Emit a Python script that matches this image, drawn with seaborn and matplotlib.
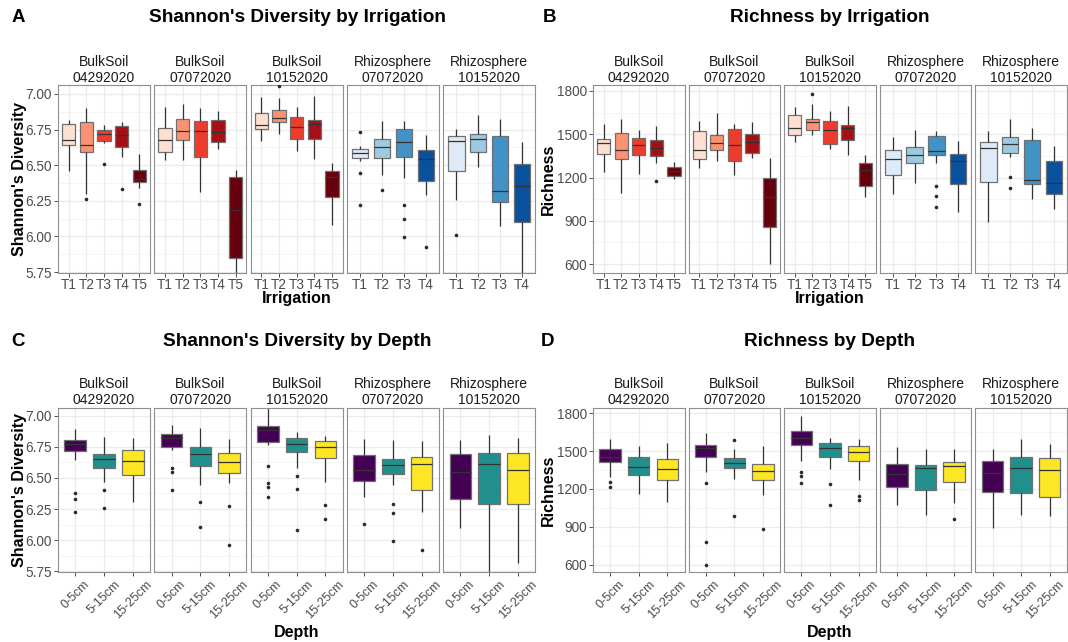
import numpy as np
import pandas as pd
import matplotlib
matplotlib.use("Agg")
import matplotlib.pyplot as plt
import matplotlib.transforms as mtransforms
import seaborn as sns

sns.set_theme(style="white")
plt.rcParams["font.family"] = ["Liberation Sans", "DejaVu Sans"]

# ---------------------------------------------------------------- labels
strip_labels = ["BulkSoil\n04292020", "BulkSoil\n07072020", "BulkSoil\n10152020",
                "Rhizosphere\n07072020", "Rhizosphere\n10152020"]
treat_bulk = ["T1", "T2", "T3", "T4", "T5"]
treat_rhizo = ["T1", "T2", "T3", "T4"]
depth_levels = ["0-5cm", "5-15cm", "15-25cm"]

reds = ["#FEE0D2", "#FC9272", "#EF3B2C", "#A50F15", "#67000D"]
blues = ["#DEEBF7", "#9ECAE1", "#4292C6", "#08519C"]
viridis3 = ["#440154", "#21908C", "#FDE725"]

# Box summaries per group: lower whisker, Q1, median, Q3, upper whisker
# ---- Shannon's diversity by irrigation
sh_irr_bs0429 = [[6.46, 6.64, 6.68, 6.79, 6.82], [6.30, 6.59, 6.645, 6.805, 6.90],
                 [6.655, 6.668, 6.717, 6.745, 6.783], [6.56, 6.631, 6.71, 6.773, 6.80],
                 [6.339, 6.379, 6.404, 6.463, 6.577]]
sh_irr_bs0707 = [[6.537, 6.596, 6.68, 6.759, 6.907], [6.533, 6.68, 6.738, 6.822, 6.93],
                 [6.309, 6.554, 6.743, 6.81, 6.90], [6.612, 6.661, 6.736, 6.815, 6.877],
                 [5.743, 5.851, 6.187, 6.416, 6.463]]
sh_irr_bs1015 = [[6.673, 6.752, 6.785, 6.865, 6.98], [6.717, 6.80, 6.832, 6.888, 6.97],
                 [6.603, 6.687, 6.771, 6.841, 6.907], [6.542, 6.685, 6.787, 6.818, 6.986],
                 [6.082, 6.28, 6.416, 6.458, 6.514]]
sh_irr_rz0707 = [[6.53, 6.551, 6.584, 6.614, 6.636], [6.432, 6.549, 6.626, 6.687, 6.81],
                 [6.409, 6.554, 6.666, 6.752, 6.81], [6.294, 6.39, 6.544, 6.605, 6.713]]
sh_irr_rz1015 = [[6.257, 6.46, 6.671, 6.703, 6.752], [6.484, 6.596, 6.685, 6.717, 6.85],
                 [6.075, 6.24, 6.322, 6.706, 6.825], [5.743, 6.098, 6.353, 6.507, 6.666]]

sh_irr_out_bs0429 = [[], [6.262], [6.507], [6.332], [6.229]]
sh_irr_out_bs0707 = [[], [], [], [], []]
sh_irr_out_bs1015 = [[], [7.056], [], [], []]
sh_irr_out_rz0707 = [[6.731, 6.444, 6.222], [6.325], [6.22, 6.124, 5.995], [5.927]]
sh_irr_out_rz1015 = [[6.007], [], [], []]

# ---- Richness by irrigation
rc_irr_bs0429 = [[1235, 1366, 1440, 1468, 1569], [1092, 1325, 1389, 1507, 1604],
                 [1223, 1359, 1422, 1475, 1532], [1304, 1352, 1403, 1458, 1555],
                 [1188, 1209, 1246, 1276, 1308]]
rc_irr_bs0707 = [[1269, 1325, 1389, 1525, 1590], [1311, 1392, 1438, 1498, 1648],
                 [1218, 1311, 1428, 1537, 1574], [1338, 1371, 1445, 1505, 1585],
                 [598, 854, 1066, 1200, 1338]]
rc_irr_bs1015 = [[1447, 1498, 1546, 1632, 1689], [1498, 1532, 1583, 1608, 1708],
                 [1401, 1433, 1528, 1590, 1659], [1359, 1461, 1542, 1562, 1694],
                 [1066, 1142, 1251, 1302, 1359]]
rc_irr_rz0707 = [[1085, 1218, 1325, 1394, 1482], [1165, 1304, 1359, 1412, 1532],
                 [1300, 1355, 1385, 1491, 1525], [960, 1158, 1311, 1366, 1452]]
rc_irr_rz1015 = [[891, 1168, 1405, 1449, 1523], [1340, 1371, 1433, 1482, 1604],
                 [1048, 1156, 1184, 1463, 1546], [983, 1087, 1163, 1315, 1417]]

rc_irr_out_bs0429 = [[], [], [], [1177], []]
rc_irr_out_bs0707 = [[], [], [], [], []]
rc_irr_out_bs1015 = [[], [1782], [], [], []]
rc_irr_out_rz0707 = [[], [], [1140, 1071, 992], []]
rc_irr_out_rz1015 = [[], [1205, 1128], [], []]

# ---- Shannon's diversity by depth
sh_dep_bs0429 = [[6.647, 6.716, 6.772, 6.802, 6.898], [6.467, 6.58, 6.652, 6.69, 6.829],
                 [6.304, 6.524, 6.639, 6.724, 6.821]]
sh_dep_bs0707 = [[6.727, 6.746, 6.821, 6.85, 6.928], [6.446, 6.596, 6.692, 6.748, 6.901],
                 [6.459, 6.54, 6.628, 6.698, 6.813]]
sh_dep_bs1015 = [[6.762, 6.791, 6.888, 6.92, 7.06], [6.577, 6.706, 6.772, 6.821, 6.872],
                 [6.465, 6.66, 6.748, 6.797, 6.834]]
sh_dep_rz0707 = [[6.347, 6.475, 6.566, 6.684, 6.813], [6.446, 6.532, 6.601, 6.652, 6.807],
                 [6.224, 6.403, 6.612, 6.668, 6.797]]
sh_dep_rz1015 = [[6.095, 6.331, 6.548, 6.69, 6.807], [5.731, 6.291, 6.609, 6.70, 6.847],
                 [5.817, 6.293, 6.566, 6.70, 6.821]]

sh_dep_out_bs0429 = [[6.379, 6.334, 6.224], [6.403, 6.259], []]
sh_dep_out_bs0707 = [[6.582, 6.55, 6.403], [6.309, 6.106], [6.275, 5.964]]
sh_dep_out_bs1015 = [[6.593, 6.462, 6.425, 6.344], [6.518, 6.414, 6.079], [6.283, 6.17]]
sh_dep_out_rz0707 = [[6.127], [6.293, 6.218, 5.994], [5.924]]
sh_dep_out_rz1015 = [[], [], []]

# ---- Richness by depth
rc_dep_bs0429 = [[1296, 1414, 1453, 1516, 1598], [1159, 1314, 1371, 1455, 1543],
                 [1096, 1270, 1356, 1440, 1566]]
rc_dep_bs0707 = [[1335, 1453, 1524, 1548, 1642], [1275, 1369, 1409, 1443, 1519],
                 [1149, 1272, 1340, 1398, 1537]]
rc_dep_bs1015 = [[1419, 1545, 1606, 1658, 1774], [1359, 1453, 1527, 1566, 1606],
                 [1270, 1422, 1493, 1543, 1593]]
rc_dep_rz0707 = [[1073, 1217, 1322, 1401, 1532], [997, 1196, 1369, 1390, 1519],
                 [1086, 1259, 1382, 1411, 1519]]
rc_dep_rz1015 = [[894, 1178, 1327, 1422, 1519], [991, 1172, 1369, 1456, 1598],
                 [986, 1136, 1348, 1446, 1558]]

rc_dep_out_bs0429 = [[1256, 1212], [], []]
rc_dep_out_bs0707 = [[1249, 779, 600], [1590, 986], [884]]
rc_dep_out_bs1015 = [[1333, 1301, 1251], [1243, 1070], [1146, 1115]]
rc_dep_out_rz0707 = [[], [], [965]]
rc_dep_out_rz1015 = [[], [], []]

shannon_ticks = [5.75, 6.00, 6.25, 6.50, 6.75, 7.00]
richness_ticks = [600, 900, 1200, 1500, 1800]

# ---------------------------------------------------------------- figure
W, H = 1068, 642
fig = plt.figure(figsize=(W / 100, H / 100), dpi=100)
fig.patch.set_facecolor("white")


def px_axes(x0, y0, x1, y1):
    return fig.add_axes([x0 / W, 1 - y1 / H, (x1 - x0) / W, (y1 - y0) / H])


def px_text(x, y, s, **kw):
    fig.text(x / W, 1 - y / H, s, ha=kw.pop("ha", "center"), va=kw.pop("va", "center"), **kw)


def draw_facet(ax, cats, stats, outs, colors, ylim, ticks, fmt, first, rotate):
    df = pd.DataFrame({"group": np.repeat(cats, 5), "value": np.concatenate(stats)})
    sns.boxplot(data=df, x="group", y="value", hue="group", order=cats, hue_order=cats,
                palette=colors, saturation=1, legend=False, whis=(0, 100),
                showfliers=False, showcaps=False, width=0.75, linewidth=0.9,
                linecolor="#333333", boxprops={"edgecolor": "#707070"}, ax=ax)
    og = [c for c, o in zip(cats, outs) for _ in o]
    ov = [v for o in outs for v in o]
    if ov:
        sns.stripplot(x=og, y=ov, order=cats, jitter=False, color="#2b2b2b",
                      size=2.6, linewidth=0, ax=ax, zorder=4)
    ax.set_xlim(-0.6, len(cats) - 0.4)
    ax.set_ylim(*ylim)
    ax.set_yticks(ticks)
    ax.set_yticklabels([fmt.format(t) for t in ticks])
    mids = [(a + b) / 2 for a, b in zip(ticks[:-1], ticks[1:])]
    ax.set_yticks(mids, minor=True)
    ax.grid(True, which="major", color="#EBEBEB", lw=0.9)
    ax.grid(True, which="minor", axis="y", color="#F2F2F2", lw=0.5)
    ax.grid(False, which="minor", axis="x")
    ax.set_axisbelow(True)
    ax.set_xlabel("")
    ax.set_ylabel("")
    for s in ax.spines.values():
        s.set_visible(True)
        s.set_color("#8f8f8f")
        s.set_linewidth(0.8)
    ax.tick_params(axis="both", which="major", bottom=True, left=True, length=3,
                   width=0.6, color="#333333", labelsize=9.8, labelcolor="#4D4D4D", pad=1.5)
    ax.tick_params(axis="x", pad=0.8)
    ax.tick_params(axis="y", which="minor", left=False, length=0)
    if not first:
        ax.tick_params(axis="y", which="both", left=False, labelleft=False)
    if rotate:
        ax.tick_params(axis="x", labelsize=9.0, pad=1.5)
        for lbl in ax.get_xticklabels():
            lbl.set_rotation(45)
    return ax


def draw_panel(lefts, width, top, bottom, cats_list, stats_list, outs_list, pal_list,
               ylim, ticks, fmt, rotate, strip_y):
    axes = []
    for i, (x0, cats, st, ou, pal) in enumerate(zip(lefts, cats_list, stats_list,
                                                    outs_list, pal_list)):
        ax = px_axes(x0, top, x0 + width, bottom)
        axes.append(draw_facet(ax, cats, st, ou, pal, ylim, ticks, fmt, i == 0, rotate))
        px_text(x0 + width / 2, strip_y, strip_labels[i], fontsize=10,
                color="#1A1A1A", linespacing=1.15)
    return axes


left_lefts = [58, 154.3, 250.6, 346.9, 443.2]
right_lefts = [593, 688.6, 784.2, 879.8, 975.4]
irr_cats = [treat_bulk] * 3 + [treat_rhizo] * 2
irr_pals = [reds] * 3 + [blues] * 2
dep_cats = [depth_levels] * 5
dep_pals = [viridis3] * 5

# A: Shannon's diversity by irrigation
draw_panel(left_lefts, 92, 85, 273, irr_cats,
           [sh_irr_bs0429, sh_irr_bs0707, sh_irr_bs1015, sh_irr_rz0707, sh_irr_rz1015],
           [sh_irr_out_bs0429, sh_irr_out_bs0707, sh_irr_out_bs1015, sh_irr_out_rz0707,
            sh_irr_out_rz1015],
           irr_pals, (5.743, 7.063), shannon_ticks, "{:.2f}", False, 70)
# B: richness by irrigation
draw_panel(right_lefts, 91.5, 85, 273, irr_cats,
           [rc_irr_bs0429, rc_irr_bs0707, rc_irr_bs1015, rc_irr_rz0707, rc_irr_rz1015],
           [rc_irr_out_bs0429, rc_irr_out_bs0707, rc_irr_out_bs1015, rc_irr_out_rz0707,
            rc_irr_out_rz1015],
           irr_pals, (537.6, 1841.6), richness_ticks, "{:d}", False, 70)
# C: Shannon's diversity by depth
draw_panel(left_lefts, 92, 408, 572, dep_cats,
           [sh_dep_bs0429, sh_dep_bs0707, sh_dep_bs1015, sh_dep_rz0707, sh_dep_rz1015],
           [sh_dep_out_bs0429, sh_dep_out_bs0707, sh_dep_out_bs1015, sh_dep_out_rz0707,
            sh_dep_out_rz1015],
           dep_pals, (5.743, 7.063), shannon_ticks, "{:.2f}", True, 392)
# D: richness by depth
d_axes = draw_panel(right_lefts, 91.5, 408, 572, dep_cats,
                    [rc_dep_bs0429, rc_dep_bs0707, rc_dep_bs1015, rc_dep_rz0707,
                     rc_dep_rz1015],
                    [rc_dep_out_bs0429, rc_dep_out_bs0707, rc_dep_out_bs1015,
                     rc_dep_out_rz0707, rc_dep_out_rz1015],
                    dep_pals, (544.7, 1839.5), richness_ticks, "{:d}", True, 392)

# keep the last rotated label inside the figure edge
last_lbl = d_axes[-1].get_xticklabels()[-1]
last_lbl.set_transform(last_lbl.get_transform() +
                       mtransforms.ScaledTranslation(-5 / 100, 0, fig.dpi_scale_trans))

# Titles, panel tags and axis titles
title_kw = dict(fontsize=13.7, fontweight="bold", color="black")
px_text(297, 18, "Shannon's Diversity by Irrigation", **title_kw)
px_text(830, 18, "Richness by Irrigation", **title_kw)
px_text(297, 341, "Shannon's Diversity by Depth", **title_kw)
px_text(830, 341, "Richness by Depth", **title_kw)

tag_kw = dict(fontsize=13.5, fontweight="bold", color="black")
px_text(18, 18, "A", **tag_kw)
px_text(549, 18, "B", **tag_kw)
px_text(18, 341, "C", **tag_kw)
px_text(548, 341, "D", **tag_kw)

lab_kw = dict(fontsize=11.5, fontweight="bold", color="black")
px_text(20, 179, "Shannon's Diversity", rotation=90, **lab_kw)
px_text(548, 179, "Richness", rotation=90, **lab_kw)
px_text(20, 490, "Shannon's Diversity", rotation=90, **lab_kw)
px_text(548, 490, "Richness", rotation=90, **lab_kw)
px_text(297, 298.5, "Irrigation", **lab_kw)
px_text(830, 298.5, "Irrigation", **lab_kw)
px_text(297, 632, "Depth", **lab_kw)
px_text(830, 632, "Depth", **lab_kw)

fig.savefig("out.png", dpi=100, facecolor="white")
